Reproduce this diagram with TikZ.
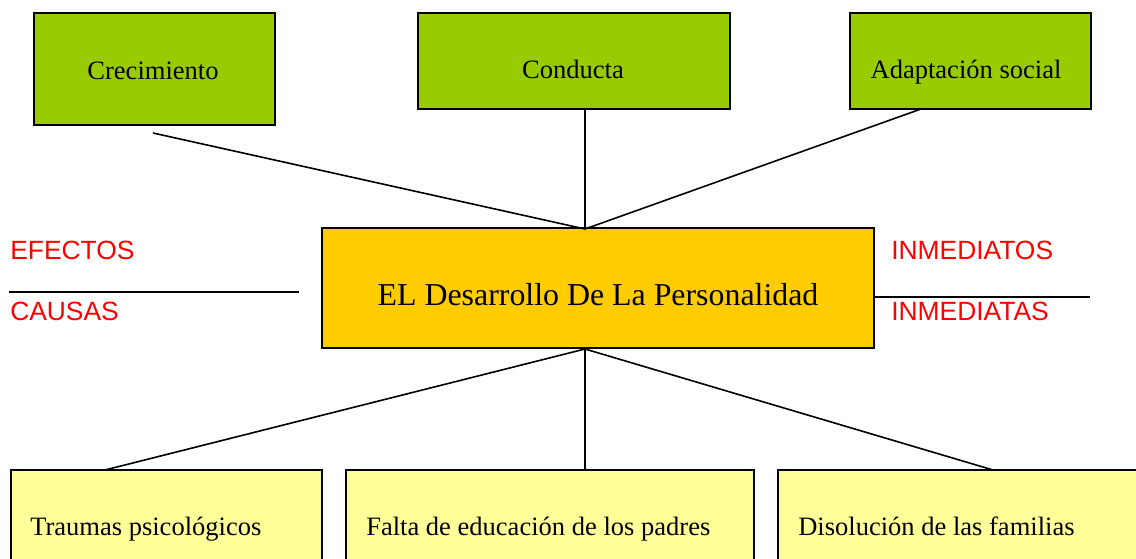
\documentclass[tikz,border=0pt]{standalone}
\usepackage{fontspec}
\setmainfont{Liberation Serif}
\newfontfamily\arialf{Liberation Sans}
\definecolor{gbox}{HTML}{99CC00}
\definecolor{obox}{HTML}{FFCC00}
\definecolor{ybox}{HTML}{FFFF99}
\definecolor{redt}{HTML}{FF0000}
\begin{document}
\begin{tikzpicture}[x=0.75pt,y=-0.75pt,
  box/.style={draw=black,line width=1.4pt,anchor=north west,inner sep=0pt},
  greenbox/.style={box,fill=gbox,minimum height=72pt},
  ybx/.style={box,fill=ybox,minimum height=90pt},
  txt/.style={font=\fontsize{19.9}{22}\selectfont,inner sep=0pt},
  redtxt/.style={font=\arialf\fontsize{19.8}{22}\selectfont,text=redt,inner sep=0pt,anchor=base west},
  conn/.style={line width=1.2pt}]
\useasboundingbox (0,0) rectangle (1136,559);
\clip (0,0) rectangle (1136,559);
% top boxes
\node[greenbox,minimum width=180.75pt,minimum height=84pt] (cre) at (33,12) {};
\node[greenbox,minimum width=234pt] (con) at (417,12) {};
\node[greenbox,minimum width=180.75pt] (ada) at (849,12) {};
\node[txt,anchor=base] (tcre) at (153,80) {Crecimiento};
\node[txt,anchor=base] (tcon) at (573,79) {Conducta};
\node[txt,anchor=base] (tada) at (966,79) {Adaptación social};
% main box
\node[box,fill=obox,minimum width=414pt,minimum height=90pt] (main) at (321,227) {};
\node[txt,font=\fontsize{23.9}{26}\selectfont,anchor=base] (tmain) at (598,306) {EL Desarrollo De La Personalidad};
% bottom boxes
\node[ybx,minimum width=233.25pt] (tra) at (10,469) {};
\node[ybx,minimum width=306pt] (fal) at (345,469) {};
\node[ybx,minimum width=290pt] (dis) at (777,469) {};
\node[txt,anchor=base west] (ttra) at (30,536) {Traumas psicológicos};
\node[txt,anchor=base west] (tfal) at (366,536) {Falta de educación de los padres};
\node[txt,anchor=base west] (tdis) at (798,536) {Disolución de las familias};
% red labels
\node[redtxt] (efe) at (10,260) {EFECTOS};
\node[redtxt] (cau) at (10,321) {CAUSAS};
\node[redtxt] (inm1) at (891,260) {INMEDIATOS};
\node[redtxt] (inm2) at (891,321) {INMEDIATAS};
% coordinates
\coordinate (jt) at (585,229);
\coordinate (jb) at (585,349);
\coordinate (cre1) at (153,133);
\coordinate (con1) at (585,108);
\coordinate (ada1) at (921,109);
\coordinate (tra1) at (105,470);
\coordinate (fal1) at (585,470);
\coordinate (dis1) at (993,470);
\coordinate (l1) at (9,292);
\coordinate (l2) at (299,292);
\coordinate (r1) at (873,297);
\coordinate (r2) at (1090,297);
% connectors
\draw[conn] (cre1) -- (jt);
\draw[conn] (con1) -- (jt);
\draw[conn] (ada1) -- (jt);
\draw[conn] (jb) -- (tra1);
\draw[conn] (jb) -- (fal1);
\draw[conn] (jb) -- (dis1);
\draw[conn] (l1) -- (l2);
\draw[conn] (r1) -- (r2);
\end{tikzpicture}
\end{document}
